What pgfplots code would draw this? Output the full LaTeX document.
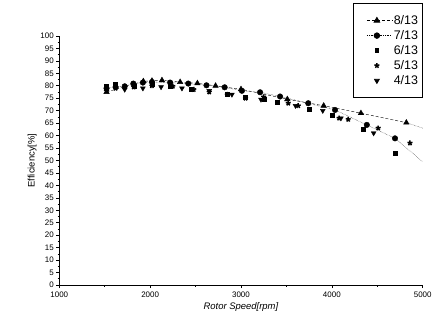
\documentclass[border=0pt]{standalone}
\usepackage{pgfplots}
\pgfplotsset{compat=1.18}
\usepackage{fontspec}
\setmainfont{Liberation Sans}
\begin{document}
\begin{tikzpicture}[x=1bp,y=1bp]
\useasboundingbox (-59.3bp,-43bp) rectangle (375.7bp,285bp);
\begin{axis}[
  at={(0,0)}, anchor=south west,
  scale only axis, width=363.4bp, height=249bp,
  xmin=1000, xmax=5000, ymin=0, ymax=100,
  axis x line*=bottom, axis y line*=left,
  xtick={1000,2000,3000,4000,5000},
  ytick={0,5,...,100},
  minor x tick num=1, minor y tick num=1,
  tick align=outside,
  major tick length=3bp, minor tick length=1.8bp,
  x tick label style={font=\fontsize{8}{9}\selectfont, /pgf/number format/1000 sep={}},
  y tick label style={font=\fontsize{8}{9}\selectfont, xshift=1bp},
  /pgf/number format/assume math mode=true,
  xtick style={black, line width=0.6pt}, ytick style={black,line width=0.6pt},
  axis line style={line width=0.9pt},
  xlabel={\textit{Rotor Speed[rpm]}},
  ylabel={Efficiency[\%]},
  xlabel style={font=\fontsize{9.5}{10}\selectfont, yshift=1bp},
  ylabel style={font=\fontsize{9.5}{10}\selectfont, yshift=-3bp},
  legend style={at={(rel axis cs:0.808,1.133)}, anchor=north west,
    font=\fontsize{12.5}{14}\selectfont, draw=black, line width=0.9pt,
    row sep=1.5bp, inner xsep=3bp, inner ysep=10.5bp,
    legend cell align=left, nodes={inner sep=1.5bp}},
  legend image post style={line width=0.8pt},
  legend image code/.code={\path (-0.36cm,0);\draw[mark repeat=2,mark phase=2] plot coordinates {(0cm,0cm) (0.35cm,0cm) (0.88cm,0cm)};},
  mark size=2.8pt,
]
\addplot[black, densely dashed, mark=triangle*, mark options={solid}, mark size=3.2pt] coordinates {
(1520,77.5) (1925,81.8) (2020,82) (2130,82.2) (2330,81.5) (2520,81) (2720,80) (3000,78.6) (3510,74.6) (3910,72) (4320,69) (4820,65.2)
};
\addlegendentry{8/13}
\addplot[black, densely dotted, mark=*, mark options={solid}] coordinates {
(1520,79) (1620,79.5) (1720,79.8) (1815,80.9) (1920,81.3) (2020,81.5) (2220,81.3) (2420,80.9) (2620,80.2) (2820,79.4) (3010,78) (3210,77.4) (3430,75.7) (3740,73) (4035,70.3) (4385,64.3) (4695,58.9)
};
\addlegendentry{7/13}
\addplot[black, only marks, mark=square*, mark size=2pt] coordinates {
(1520,80) (1620,80.5) (1820,80) (2020,80.5) (2220,80) (2450,78.5) (2850,76.5) (3050,75.5) (3250,74.5) (3400,73.5) (3750,70.5) (4000,68) (4350,62.5) (4700,52.8)
};
\addlegendentry{6/13}
\addplot[black, only marks, mark=star, mark options={line width=1.5pt}, mark size=2.6pt] coordinates {
(1520,78) (1620,79) (1820,79.5) (2020,80) (2250,79.8) (2480,78.5) (2650,77.5) (2850,76.5) (3050,75) (3250,75.5) (3520,73) (3630,72) (4080,67) (4180,66.5) (4510,63) (4860,57)
};
\addlegendentry{5/13}
\addplot[black, only marks, mark=triangle*, mark options={rotate=180}, mark size=2.8pt] coordinates {
(1520,78.5) (1720,78.5) (1920,79) (2120,79.5) (2350,79) (2650,78) (2900,76.5) (3220,74.5) (3600,72) (3900,70) (4100,67) (4460,61)
};
\addlegendentry{4/13}
\addplot[black, densely dotted, forget plot] coordinates {(4820,65.2) (5000,63)};
\addplot[black, densely dotted, forget plot] coordinates {(4695,58.9) (5000,49.5)};
\end{axis}
\end{tikzpicture}
\end{document}
